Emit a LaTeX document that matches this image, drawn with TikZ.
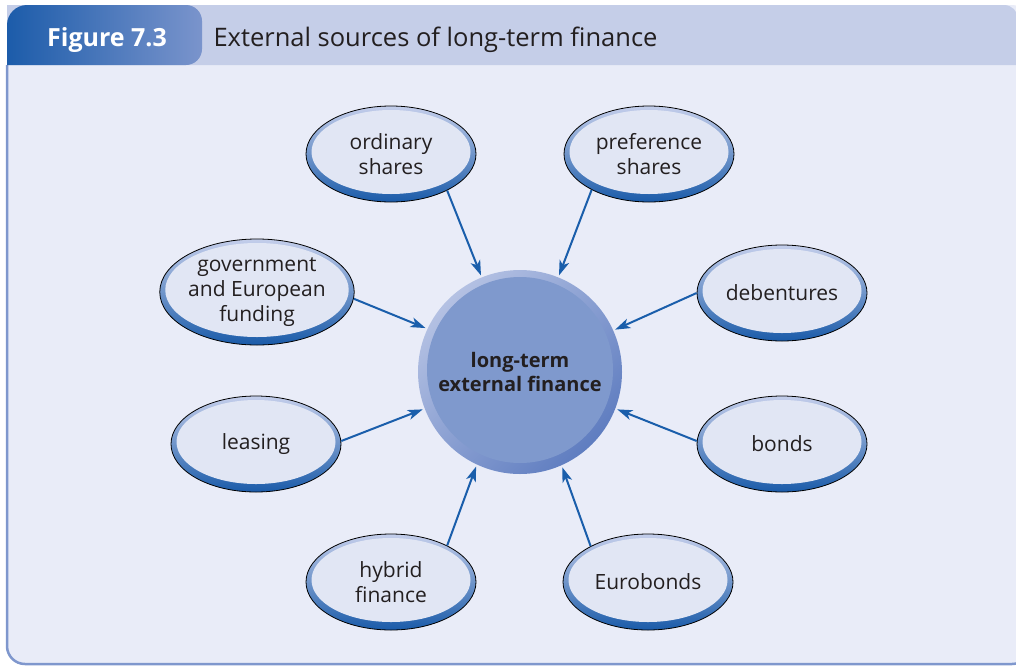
\documentclass[tikz,border=0pt]{standalone}
\usepackage{fontspec}
\setmainfont{Open Sans}
\usetikzlibrary{arrows.meta,calc,shapes.geometric}
\definecolor{cdark}{HTML}{231F20}
\definecolor{cband}{HTML}{C5CEE8}
\definecolor{cbody}{HTML}{E9ECF8}
\definecolor{cframe}{HTML}{7F97CD}
\definecolor{ctabl}{HTML}{1C5CAA}
\definecolor{ctabr}{HTML}{7A94CC}
\definecolor{carrow}{HTML}{1A5EAB}
\definecolor{cringtop}{HTML}{C4CEEB}
\definecolor{cringbot}{HTML}{1A5BA9}
\definecolor{cinner}{HTML}{E1E6F4}
\definecolor{chubring}{HTML}{B4C1E3}
\definecolor{chubdark}{HTML}{5F7DC0}
\definecolor{chub}{HTML}{7F99CD}

\begin{document}
\begin{tikzpicture}[x=1pt,y=-1pt,
  source/.style={ellipse,draw=black,line width=0.8pt,top color=cringtop,bottom color=cringbot,
    minimum width=170pt,minimum height=96pt,inner sep=0pt,align=center,text=cdark,
    font=\fontsize{21}{25}\selectfont,
    path picture={\fill[cinner] let \p1=(path picture bounding box.north east),
      \p2=(path picture bounding box.center) in
      ([yshift=2pt]\p2) ellipse [x radius=\x1-\x2-5.5pt,y radius=\y1-\y2-6pt];}},
  hub/.style={circle,minimum size=204pt,inner sep=0pt,top color=chubring,bottom color=chubdark,
    shading angle=45,align=center,text=cdark,font=\bfseries\fontsize{20}{24}\selectfont,
    path picture={\fill[chub] ([yshift=2pt]path picture bounding box.center) circle (93pt);}},
  feed/.style={carrow,line width=2pt,-{Stealth[length=15pt,width=10pt,inset=4pt]},shorten >=2pt}]
  \useasboundingbox (0,0) rectangle (1016,667);
  \fill[cbody,rounded corners=18pt] (7,5) rectangle (1030,664);
  \fill[cband] (7,5) -- (1004,5) arc[start angle=-90,end angle=0,radius=14] -- (1018,65) -- (7,65) -- cycle;
  \draw[cframe,line width=2.5pt] (7,65) -- (7,646) arc[start angle=180,end angle=90,radius=18]
    -- (1012,664) arc[start angle=90,end angle=0,radius=18];
  \shade[left color=ctabl,right color=ctabr] (7,65) -- (7,25) arc[start angle=180,end angle=270,radius=20]
    -- (186,5) arc[start angle=-90,end angle=0,radius=16] -- (202,49)
    arc[start angle=0,end angle=90,radius=16] -- cycle;
  \node[anchor=base,text=white,font=\bfseries\fontsize{25}{28}\selectfont] (fig) at (107,46) {Figure 7.3};
  \node[anchor=base west,text=cdark,font=\fontsize{25.5}{30}\selectfont] (title) at (210,46) {External sources of long-term finance};

  \node[hub] (lt) at (520,372) {long-term\\external finance};
  \node[source] (os) at (391,154) {ordinary\\shares};
  \node[source] (ps) at (649,154) {preference\\shares};
  \node[source] (deb) at (782,293) {debentures};
  \node[source] (bo) at (782,444) {bonds};
  \node[source] (eb) at (648,582) {Eurobonds};
  \node[source] (hf) at (391,582) {hybrid\\finance};
  \node[source] (le) at (256,444) {leasing};
  \node[source,minimum width=192pt,minimum height=106pt] (gov) at (257,292) {government\\and European\\funding};

  \draw[feed] (os.-33) -- (lt.112);
  \draw[feed] (ps.-148) -- (lt.68);
  \draw[feed] (deb.180) -- (lt.24);
  \draw[feed] (bo.178) -- (lt.-21);
  \draw[feed] (eb.148) -- (lt.-66);
  \draw[feed] (hf.33) -- (lt.-115);
  \draw[feed] (le.2) -- (lt.-159);
  \draw[feed] (gov.-4) -- (lt.155);
\end{tikzpicture}
\end{document}
